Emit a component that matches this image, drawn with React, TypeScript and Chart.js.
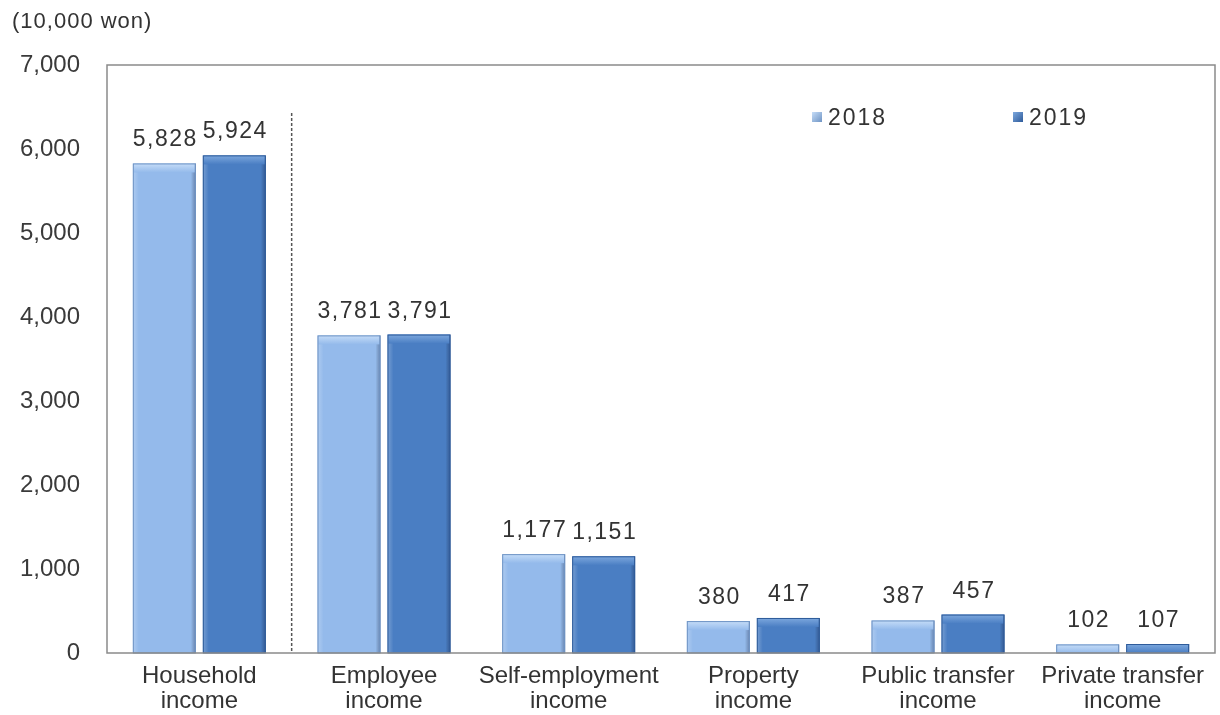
import React, { useEffect, useRef } from "react";
import { Chart, registerables } from "chart.js";

Chart.register(...registerables);

const categories: string[][] = [
  ["Household", "income"],
  ["Employee", "income"],
  ["Self-employment", "income"],
  ["Property", "income"],
  ["Public transfer", "income"],
  ["Private transfer", "income"],
];
const seriesNames = ["2018", "2019"];
const values2018 = [5828, 3781, 1177, 380, 387, 102];
const values2019 = [5924, 3791, 1151, 417, 457, 107];
const yMin = 0;
const yMax = 7000;
const yStep = 1000;
const yTitle = "(10,000 won)";

const fills = ["#94BAEB", "#4A7EC3"];
const highlights = ["#C6DDF8", "#7DA8DE"];
const edges = ["#6F94C4", "#2E5B9A"];

const FONT = "'Liberation Sans', Arial, sans-serif";

const decorPlugin = {
  id: "decor",
  afterLayout(chart: any) {
    const ys = chart.scales.y;
    if (ys && !ys.__wrapped) {
      const orig = ys.draw.bind(ys);
      ys.draw = (area: any) => {
        const c = chart.ctx;
        c.save();
        (c as any).letterSpacing = "1px";
        orig(area);
        c.restore();
      };
      ys.__wrapped = true;
    }
  },
  afterDatasetsDraw(chart: any) {
    const ctx: CanvasRenderingContext2D = chart.ctx;
    const area = chart.chartArea;
    chart.data.datasets.forEach((ds: any, di: number) => {
      const meta = chart.getDatasetMeta(di);
      meta.data.forEach((bar: any, i: number) => {
        const { x, y, base, width } = bar.getProps(["x", "y", "base", "width"], true);
        const l = x - width / 2;
        const h = base - y;
        ctx.save();
        const lg = ctx.createLinearGradient(l, 0, l + 6, 0);
        lg.addColorStop(0, "rgba(255,255,255,0.25)");
        lg.addColorStop(1, "rgba(255,255,255,0)");
        ctx.fillStyle = lg;
        ctx.fillRect(l, y, 6, h);
        const rg = ctx.createLinearGradient(l + width - 5, 0, l + width, 0);
        rg.addColorStop(0, "rgba(0,0,0,0)");
        rg.addColorStop(1, "rgba(0,0,40,0.3)");
        ctx.fillStyle = rg;
        ctx.fillRect(l + width - 5, y, 5, h);
        const th = Math.min(9, h);
        const tg = ctx.createLinearGradient(0, y, 0, y + th);
        tg.addColorStop(0, highlights[di]);
        tg.addColorStop(1, fills[di]);
        ctx.fillStyle = tg;
        ctx.fillRect(l + 1, y, width - 2, th);
        ctx.strokeStyle = edges[di];
        ctx.lineWidth = 1;
        ctx.strokeRect(l + 0.5, y + 0.5, width - 1, h - 0.5);
        ctx.fillStyle = "#333";
        ctx.font = `23px ${FONT}`;
        (ctx as any).letterSpacing = "1.5px";
        ctx.textAlign = "center";
        ctx.textBaseline = "alphabetic";
        ctx.fillText(ds.data[i].toLocaleString("en-US"), x + 1, y - 17);
        ctx.restore();
      });
    });

    ctx.save();
    ctx.strokeStyle = "#8a8a8a";
    ctx.lineWidth = 1.5;
    ctx.strokeRect(area.left, area.top, area.right - area.left, area.bottom - area.top);
    const xs = chart.scales.x;
    const sepX = (xs.getPixelForValue(0) + xs.getPixelForValue(1)) / 2;
    ctx.setLineDash([3, 2]);
    ctx.strokeStyle = "#555";
    ctx.lineWidth = 1.5;
    ctx.beginPath();
    ctx.moveTo(sepX, 113);
    ctx.lineTo(sepX, area.bottom);
    ctx.stroke();
    ctx.setLineDash([]);

    ctx.fillStyle = "#333";
    ctx.font = `22px ${FONT}`;
    (ctx as any).letterSpacing = "1px";
    ctx.textAlign = "left";
    ctx.textBaseline = "middle";
    ctx.fillText(yTitle, 12, 22);

    const legendX = [812, 1013];
    seriesNames.forEach((name, k) => {
      const bx = legendX[k];
      const by = 112;
      const g = ctx.createLinearGradient(bx, by, bx + 10, by + 10);
      g.addColorStop(0, highlights[k]);
      g.addColorStop(1, edges[k]);
      ctx.fillStyle = g;
      ctx.fillRect(bx, by, 10, 10);
      ctx.fillStyle = "#333";
      ctx.font = `23px ${FONT}`;
      (ctx as any).letterSpacing = "2px";
      ctx.textBaseline = "alphabetic";
      ctx.fillText(name, bx + 16, 125);
    });
    ctx.restore();
  },
};

export default function App() {
  const ref = useRef<HTMLCanvasElement | null>(null);
  useEffect(() => {
    if (!ref.current) return;
    const chart = new Chart(ref.current, {
      type: "bar",
      data: {
        labels: categories,
        datasets: [
          {
            label: seriesNames[0],
            data: values2018,
            backgroundColor: fills[0],
            categoryPercentage: 0.758,
            barPercentage: 0.9,
          },
          {
            label: seriesNames[1],
            data: values2019,
            backgroundColor: fills[1],
            categoryPercentage: 0.758,
            barPercentage: 0.9,
          },
        ],
      },
      options: {
        animation: false,
        responsive: false,
        maintainAspectRatio: false,
        layout: { padding: { top: 65, right: 5, left: 0, bottom: 0 } },
        plugins: {
          legend: { display: false },
          tooltip: { enabled: false },
          title: { display: false },
        },
        scales: {
          x: {
            grid: { display: false, drawTicks: false },
            border: { display: false },
            ticks: {
              color: "#333",
              font: { family: FONT, size: 24, lineHeight: 1.05 },
              padding: 11,
              maxRotation: 0,
              autoSkip: false,
            },
            afterFit: (s: any) => {
              s.height = 62;
            },
          },
          y: {
            min: yMin,
            max: yMax,
            grid: { display: false, drawTicks: false },
            border: { display: false },
            ticks: {
              stepSize: yStep,
              color: "#3a3a3a",
              font: { family: FONT, size: 24 },
              padding: 27,
              callback: (v: any) => Number(v).toLocaleString("en-US"),
            },
            afterFit: (s: any) => {
              s.width = 107;
            },
          },
        },
      },
      plugins: [decorPlugin],
    });
    return () => chart.destroy();
  }, []);
  return (
    <div style={{ position: "absolute", left: 0, top: 0, width: 1220, height: 715, background: "#fff" }}>
      <canvas ref={ref} width={1220} height={715} style={{ display: "block" }} />
    </div>
  );
}
